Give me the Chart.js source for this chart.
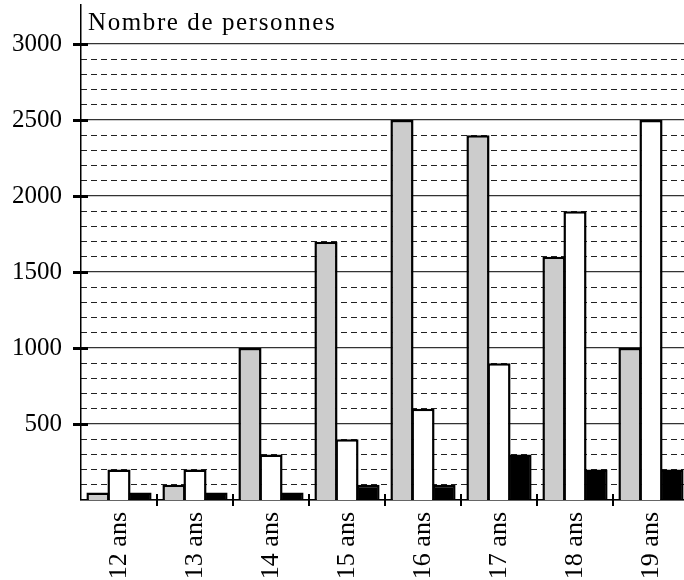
<!DOCTYPE html>
<html>
<head>
<meta charset="utf-8">
<script src="https://cdn.jsdelivr.net/npm/chart.js@4.4.0/dist/chart.umd.min.js"></script>
<style>
  html, body { margin: 0; padding: 0; background: #fff; overflow: hidden; }
  #wrap { width: 689px; height: 580px; }
</style>
</head>
<body>
<div id="wrap"><canvas id="c" width="689" height="580"></canvas></div>
<script>
// ---- Data ----
const categories = ["12 ans", "13 ans", "14 ans", "15 ans", "16 ans", "17 ans", "18 ans", "19 ans"];
const seriesGray  = [50, 100, 1000, 1700, 2500, 2400, 1600, 1000];
const seriesWhite = [200, 200, 300, 400, 600, 900, 1900, 2500];
const seriesBlack = [50, 50, 50, 100, 100, 300, 200, 200];
const yMajorTicks = [0, 500, 1000, 1500, 2000, 2500, 3000];
const yMinorStep = 100;
const yTop = 3000;
const yAxisMax = 3257;
const yTitle = "Nombre de personnes";

const FONT = "'Liberation Serif', 'Times New Roman', serif";

const minorTicks = [];
for (let v = yMinorStep; v < yTop; v += yMinorStep) {
  if (v % 500 !== 0) minorTicks.push(v);
}

function zeroPad(s) { s.paddingTop = 0; s.paddingBottom = 0; s.paddingLeft = 0; s.paddingRight = 0; }

const crossTicks = {
  id: 'crossTicks',
  afterDatasetsDraw(chart) {
    const ctx = chart.ctx;
    const y = chart.scales.y, x = chart.scales.x;
    const ca = chart.chartArea;
    ctx.save();
    ctx.strokeStyle = '#000';
    ctx.lineWidth = 3;
    yMajorTicks.filter(v => v > 0).forEach(v => {
      const py = Math.round(y.getPixelForValue(v)) + 0.5;
      ctx.beginPath(); ctx.moveTo(ca.left - 8, py); ctx.lineTo(ca.left + 7, py); ctx.stroke();
    });
    ctx.lineWidth = 2;
    for (let i = 1; i < categories.length; i++) {
      const px = Math.round((x.getPixelForValue(i - 1) + x.getPixelForValue(i)) / 2);
      ctx.beginPath(); ctx.moveTo(px, ca.bottom - 6); ctx.lineTo(px, ca.bottom + 6); ctx.stroke();
    }
    // title inside the plot
    ctx.fillStyle = '#000';
    ctx.font = "25px " + FONT;
    if ('letterSpacing' in ctx) ctx.letterSpacing = '1.6px';
    ctx.textAlign = 'left';
    ctx.textBaseline = 'alphabetic';
    ctx.fillText(yTitle, ca.left + 7, y.getPixelForValue(yTop) - 14);
    ctx.restore();
  }
};

const barCommon = { borderColor: '#000', borderWidth: 2.5, borderSkipped: 'start', categoryPercentage: 0.83, barPercentage: 1.1 };

new Chart(document.getElementById('c'), {
  type: 'bar',
  data: {
    labels: categories,
    datasets: [
      Object.assign({ label: 'a', data: seriesGray, backgroundColor: '#cccccc' }, barCommon),
      Object.assign({ label: 'b', data: seriesWhite, backgroundColor: '#ffffff' }, barCommon),
      Object.assign({ label: 'c', data: seriesBlack, backgroundColor: '#000000' }, barCommon)
    ]
  },
  options: {
    responsive: false,
    animation: false,
    devicePixelRatio: 1,
    layout: { padding: { top: 5, left: 0, right: 0, bottom: 0 } },
    plugins: { legend: { display: false }, tooltip: { enabled: false }, title: { display: false } },
    scales: {
      x: {
        type: 'category',
        grid: { display: false, offset: true, drawOnChartArea: false, drawTicks: false },
        border: { display: true, color: '#000', width: 1.5 },
        ticks: { color: '#000', font: { family: FONT, size: 26 }, minRotation: 90, maxRotation: 90, autoSkip: false, padding: 12 },
        afterFit(s) { s.height = 80; zeroPad(s); }
      },
      y2: {
        position: 'left',
        min: 0, max: yAxisMax,
        ticks: { display: false, autoSkip: false },
        afterBuildTicks(s) { s.ticks = minorTicks.map(v => ({ value: v })); },
        grid: { color: '#222', lineWidth: 1, drawTicks: false },
        border: { display: false, dash: [6, 4] },
        afterFit(s) { s.width = 0; zeroPad(s); }
      },
      y: {
        position: 'left',
        min: 0, max: yAxisMax,
        ticks: {
          color: '#000', font: { family: FONT, size: 25 }, padding: 19, autoSkip: false,
          callback: v => (v === 0 ? '' : String(v))
        },
        afterBuildTicks(s) { s.ticks = yMajorTicks.map(v => ({ value: v })); },
        grid: { color: '#333', lineWidth: 1.2, drawTicks: false },
        border: { display: true, color: '#000', width: 1.5 },
        afterFit(s) { s.width = 81; zeroPad(s); }
      }
    }
  },
  plugins: [crossTicks]
});
</script>
</body>
</html>
